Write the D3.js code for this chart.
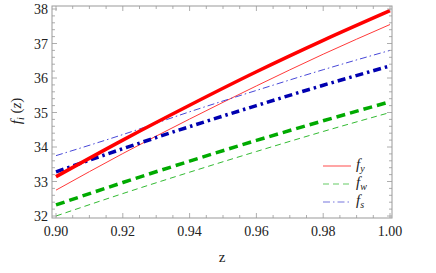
<!DOCTYPE html>
<html>
<head>
<meta charset="utf-8">
<script src="https://cdn.jsdelivr.net/npm/d3@7"></script>
<style>
  body { margin: 0; background: #fff; }
</style>
</head>
<body>
<script>
// values
const zValues   = [0.90, 0.92, 0.94, 0.96, 0.98, 1.00];
const fyThick   = [33.14, 34.20, 35.21, 36.18, 37.09, 37.95];
const fyThin    = [32.75, 33.81, 34.81, 35.77, 36.69, 37.55];
const fwThick   = [32.32, 32.97, 33.59, 34.19, 34.76, 35.31];
const fwThin    = [32.00, 32.65, 33.27, 33.87, 34.45, 35.00];
const fsThick   = [33.28, 33.95, 34.59, 35.20, 35.79, 36.35];
const fsThin    = [33.75, 34.36, 35.02, 35.64, 36.24, 36.80];
const xTicks    = [0.90, 0.92, 0.94, 0.96, 0.98, 1.00];
const yTicks    = [32, 33, 34, 35, 36, 37, 38];
const legendKeys = ["y", "w", "s"];

const W = 436, H = 273;
const frame = {left: 52, right: 392, top: 6, bottom: 218};

const svg = d3.select("body").append("svg")
  .attr("width", W).attr("height", H);

const xScale = d3.scaleLinear().domain([0.90, 1.00]).range([56, 390]);
const yScale = d3.scaleLinear().domain([32, 38]).range([216, 9]);

// clip to the frame
svg.append("defs").append("clipPath").attr("id", "clip")
  .append("rect")
  .attr("x", frame.left).attr("y", frame.top)
  .attr("width", frame.right - frame.left)
  .attr("height", frame.bottom - frame.top);

const series = [
  {vals: fyThin,  color: "#ff3a3a", width: 1,   dash: null},
  {vals: fwThin,  color: "#33bb33", width: 1,   dash: "6,4"},
  {vals: fsThin,  color: "#4848d8", width: 1,   dash: "7,3,1.5,3"},
  {vals: fwThick, color: "#00aa00", width: 3.5, dash: "9,5"},
  {vals: fsThick, color: "#0000b0", width: 3.5, dash: "8,4,2.5,4"},
  {vals: fyThick, color: "#ff0000", width: 3.5, dash: null}
];

const lineGen = d3.line()
  .x((d, i) => xScale(zValues[i]))
  .y(d => yScale(d))
  .curve(d3.curveMonotoneX);

const plot = svg.append("g").attr("clip-path", "url(#clip)");
series.forEach(s => {
  plot.append("path")
    .datum(s.vals)
    .attr("fill", "none")
    .attr("stroke", s.color)
    .attr("stroke-width", s.width)
    .attr("stroke-dasharray", s.dash)
    .attr("d", lineGen);
});

// frame
svg.append("rect")
  .attr("x", frame.left).attr("y", frame.top)
  .attr("width", frame.right - frame.left)
  .attr("height", frame.bottom - frame.top)
  .attr("fill", "none").attr("stroke", "#999").attr("stroke-width", 1);

// ticks on all four sides
const ticks = svg.append("g").attr("stroke", "#999").attr("stroke-width", 0.8);
const xMinor = d3.range(0.90, 1.0001, 0.005);
xMinor.forEach(v => {
  const major = xTicks.some(t => Math.abs(t - v) < 1e-6);
  const len = major ? 5 : 3;
  const x = xScale(v);
  ticks.append("line").attr("x1", x).attr("x2", x)
    .attr("y1", frame.bottom).attr("y2", frame.bottom - len);
  ticks.append("line").attr("x1", x).attr("x2", x)
    .attr("y1", frame.top).attr("y2", frame.top + len);
});
const yMinor = d3.range(32, 38.001, 0.2);
yMinor.forEach(v => {
  const major = yTicks.some(t => Math.abs(t - v) < 1e-6);
  const len = major ? 5 : 3;
  const y = yScale(v);
  ticks.append("line").attr("y1", y).attr("y2", y)
    .attr("x1", frame.left).attr("x2", frame.left + len);
  ticks.append("line").attr("y1", y).attr("y2", y)
    .attr("x1", frame.right).attr("x2", frame.right - len);
});

// every label is plain svg text in a Times-like face
function label(sel) {
  return sel.style("font-family", "Liberation Serif")
    .style("font-size", "14px")
    .attr("fill", "#222");
}

svg.append("g").selectAll("text").data(xTicks).join("text")
  .attr("x", d => xScale(d)).attr("y", frame.bottom + 18)
  .attr("text-anchor", "middle")
  .call(label)
  .text(d => d.toFixed(2));
svg.append("g").selectAll("text").data(yTicks).join("text")
  .attr("x", frame.left - 4).attr("y", d => yScale(d) + 5)
  .attr("text-anchor", "end")
  .call(label)
  .text(d => d);

// axis titles
svg.append("text")
  .attr("x", 222).attr("y", 262)
  .attr("text-anchor", "middle")
  .call(label).style("font-size", "15px")
  .text("z");
const yl = svg.append("text")
  .attr("transform", "translate(21,111) rotate(-90)")
  .attr("text-anchor", "middle")
  .call(label).style("font-size", "15px");
yl.append("tspan").style("font-style", "italic").text("f");
yl.append("tspan").style("font-style", "italic").style("font-size", "10px").attr("dy", 3).text("i");
yl.append("tspan").attr("dy", -3).text(" (");
yl.append("tspan").style("font-style", "italic").text("z");
yl.append("tspan").text(")");

// legend
const legendStyles = [
  {color: "#ff6a6a", dash: null},
  {color: "#66cc66", dash: "6,4"},
  {color: "#7777dd", dash: "7,3,1.5,3"}
];
const legendY = d3.scaleLinear().domain([0, 2]).range([166, 202]);
legendKeys.forEach((k, i) => {
  const y = legendY(i);
  svg.append("line")
    .attr("x1", 323).attr("x2", 351).attr("y1", y).attr("y2", y)
    .attr("stroke", legendStyles[i].color).attr("stroke-width", 1.2)
    .attr("stroke-dasharray", legendStyles[i].dash);
  const t = svg.append("text").attr("x", 356).attr("y", y + 3)
    .call(label).style("font-size", "15px").style("font-style", "italic");
  t.append("tspan").text("f");
  t.append("tspan").style("font-size", "10px").attr("dy", 3).text(k);
});
</script>
</body>
</html>
